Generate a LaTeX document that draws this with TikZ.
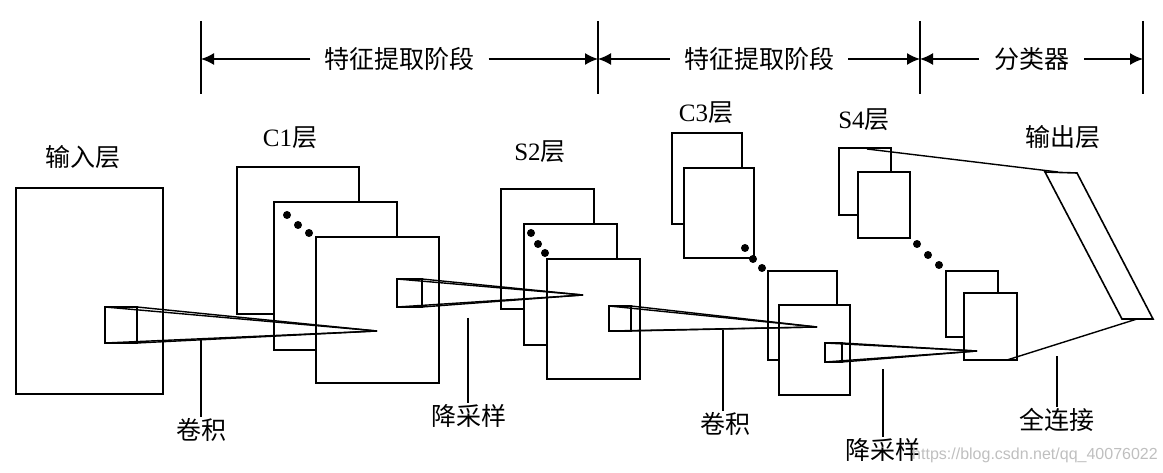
\documentclass[tikz,border=0pt]{standalone}
\usepackage{fontspec}
\setmainfont{Liberation Serif}
\newfontfamily\cjk{Noto Sans CJK SC}
\newfontfamily\wmfont{Liberation Sans}
\usetikzlibrary{arrows.meta}
\begin{document}
\begin{tikzpicture}[x=1pt,y=-1pt,
 box/.style={draw, fill=white, line width=2pt, inner sep=0pt, outer sep=0pt, anchor=north west},
 kbox/.style={box, line width=1.5pt},
 cone/.style={line width=1.4pt},
 lab/.style={font=\fontsize{25}{30}\selectfont, inner sep=1pt},
 lead/.style={line width=1.2pt},
 tickline/.style={line width=1.6pt},
 dimarrow/.style={line width=1.6pt, -{Latex[length=13pt,width=12pt]}},
 dotmark/.style={circle, fill=black, inner sep=0pt, minimum size=8pt},
 outl/.style={line width=1.6pt}]
\useasboundingbox (0,0) rectangle (1163,473);

% ---------- top dimension brackets ----------
\coordinate (t1a) at (201,21); \coordinate (t1b) at (201,94);
\coordinate (t2a) at (598,21); \coordinate (t2b) at (598,94);
\coordinate (t3a) at (920,21); \coordinate (t3b) at (920,94);
\coordinate (t4a) at (1143,21); \coordinate (t4b) at (1143,94);
\draw[tickline] (t1a) -- (t1b);
\draw[tickline] (t2a) -- (t2b);
\draw[tickline] (t3a) -- (t3b);
\draw[tickline] (t4a) -- (t4b);
\coordinate (e1) at (201,59); \coordinate (e2) at (598,59);
\coordinate (e3) at (920,59); \coordinate (e4) at (1143,59);
\node[lab, inner xsep=14pt] (st1) at (399.5,59) {\cjk 特征提取阶段};
\node[lab, inner xsep=14pt] (st2) at (759,59) {\cjk 特征提取阶段};
\node[lab, inner xsep=15pt] (st3) at (1031.5,59) {\cjk 分类器};
\draw[dimarrow] (st1.west) -- (e1);
\draw[dimarrow] (st1.east) -- (e2);
\draw[dimarrow] (st2.west) -- (e2);
\draw[dimarrow] (st2.east) -- (e3);
\draw[dimarrow] (st3.west) -- (e3);
\draw[dimarrow] (st3.east) -- (e4);

% ---------- layers ----------
\node[box, minimum width=147pt, minimum height=206pt] (in) at (16,188) {};

\node[box, minimum width=122pt, minimum height=147pt] (c1a) at (237,167) {};
\node[box, minimum width=123pt, minimum height=148pt] (c1b) at (274,202) {};
\node[box, minimum width=123pt, minimum height=146pt] (c1c) at (316,237) {};

\node[box, minimum width=93pt, minimum height=120pt] (s2a) at (501,189) {};
\node[box, minimum width=93pt, minimum height=121pt] (s2b) at (524,224) {};
\node[box, minimum width=93pt, minimum height=120pt] (s2c) at (547,259) {};

\node[box, minimum width=70pt, minimum height=91pt] (c3a) at (672,133) {};
\node[box, minimum width=70pt, minimum height=90pt] (c3b) at (684,168) {};
\node[box, minimum width=69pt, minimum height=89pt] (c3c) at (768,271) {};
\node[box, minimum width=71pt, minimum height=90pt] (c3d) at (779,305) {};

\node[box, minimum width=52pt, minimum height=67pt] (s4a) at (839,148) {};
\node[box, minimum width=52pt, minimum height=66pt] (s4b) at (858,172) {};
\node[box, minimum width=52pt, minimum height=66pt] (s4c) at (946,271) {};
\node[box, minimum width=53pt, minimum height=67pt] (s4d) at (964,293) {};

% output layer
\coordinate (o1) at (1045,172); \coordinate (o2) at (1077,173);
\coordinate (o3) at (1153,319); \coordinate (o4) at (1122,319);
\draw[outl, fill=white] (o1) -- (o2) -- (o3) -- (o4) -- cycle;

% ---------- dots ----------
\node[dotmark] (d1) at (287,215) {};
\node[dotmark] (d2) at (298,225) {};
\node[dotmark] (d3) at (309,233) {};
\node[dotmark] (d4) at (531,233) {};
\node[dotmark] (d5) at (538,244) {};
\node[dotmark] (d6) at (545,253) {};
\node[dotmark] (d7) at (745,248) {};
\node[dotmark] (d8) at (753,259) {};
\node[dotmark] (d9) at (762,268) {};
\node[dotmark] (d10) at (917,244) {};
\node[dotmark] (d11) at (928,255) {};
\node[dotmark] (d12) at (939,265) {};

% ---------- kernels and cones ----------
\node[kbox, minimum width=32pt, minimum height=36pt] (k1) at (105,307) {};
\node[kbox, minimum width=25pt, minimum height=28pt] (k2) at (397,279) {};
\node[kbox, minimum width=22pt, minimum height=25pt] (k3) at (609,306) {};
\node[kbox, minimum width=17pt, minimum height=19pt] (k4) at (825,343) {};
\coordinate (a1) at (377,331);
\coordinate (a2) at (583,295);
\coordinate (a3) at (817,327);
\coordinate (a4) at (977,351);
\foreach \k/\a in {k1/a1,k2/a2,k3/a3,k4/a4}{
  \draw[cone] (\k.north west) -- (\a);
  \draw[cone] (\k.north east) -- (\a);
  \draw[cone] (\k.south west) -- (\a);
  \draw[cone] (\k.south east) -- (\a);
}

% full connection
\coordinate (f1) at (867,149); \coordinate (f2) at (1058,172);
\coordinate (f3) at (1007,360); \coordinate (f4) at (1137,319);
\draw[cone] (f1) -- (f2);
\draw[cone] (f3) -- (f4);

% ---------- layer labels ----------
\node[lab] (lin) at (83,157) {\cjk 输入层};
\node[lab] (lc1) at (290,138) {C1{\cjk 层}};
\node[lab] (ls2) at (540,152) {S2{\cjk 层}};
\node[lab] (lc3) at (706,113) {C3{\cjk 层}};
\node[lab] (ls4) at (864,120) {S4{\cjk 层}};
\node[lab] (lout) at (1063,137) {\cjk 输出层};

% ---------- operation labels with leader lines ----------
\node[lab] (op1) at (201,430) {\cjk 卷积};
\node[lab] (op2) at (469,416) {\cjk 降采样};
\node[lab] (op3) at (725,424) {\cjk 卷积};
\node[lab] (op4) at (883,450) {\cjk 降采样};
\node[lab] (op5) at (1057,420) {\cjk 全连接};
\coordinate (p1) at (201,338);
\coordinate (p2) at (468,318);
\coordinate (p3) at (723,330);
\coordinate (p4) at (883,369);
\coordinate (p5) at (1057,356);
\draw[lead] (p1) -- (p1 |- op1.north);
\draw[lead] (p2) -- (p2 |- op2.north);
\draw[lead] (p3) -- (p3 |- op3.north);
\draw[lead] (p4) -- (p4 |- op4.north);
\draw[lead] (p5) -- (p5 |- op5.north);

% watermark
\node[font=\wmfont\fontsize{16}{18}\selectfont, text=black!25, inner sep=0pt] (wm) at (1035,455) {https://blog.csdn.net/qq\_40076022};
\end{tikzpicture}
\end{document}
